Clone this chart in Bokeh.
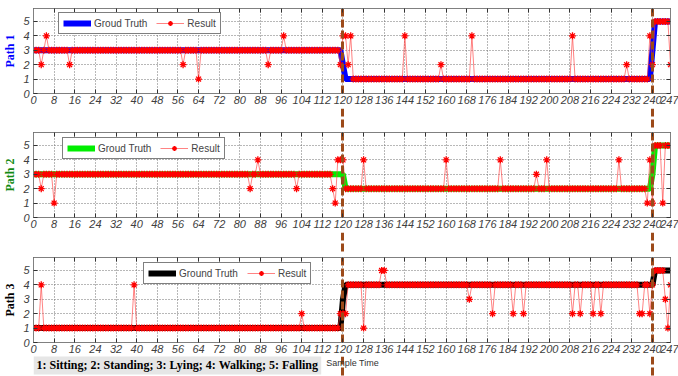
from bokeh.plotting import figure
from bokeh.layouts import column
from bokeh.models import Range1d, FixedTicker, LinearAxis, Legend, LegendItem, Label
from bokeh.embed import file_html
from bokeh.resources import INLINE

# ---------------- data (one digit per sample, 8 samples per group) ----------------
sample_time = list(range(248))
x_ticks = list(range(0, 241, 8)) + [247]
y_ticks = [0, 1, 2, 3, 4, 5]
boundaries = [120, 240]

path1_truth = """
33333333 33333333 33333333 33333333 33333333 33333333 33333333 33333333
33333333 33333333 33333333 33333333 33333333 33333333 33333333 21111111
11111111 11111111 11111111 11111111 11111111 11111111 11111111 11111111
11111111 11111111 11111111 11111111 11111111 11111111 35555555
"""
path1_result = """
33323433 33333323 33333333 33333333 33333333 33333333 33333333 33233333
13333333 33333333 33333333 33323333 34333333 33333333 33333332 44241111
11111111 11111111 41111111 11111121 11111111 11411111 11111111 11111111
11111111 11111111 14111111 11111111 11111121 11111114 25555552
"""
path2_truth = """
33333333 33333333 33333333 33333333 33333333 33333333 33333333 33333333
33333333 33333333 33333333 33333333 33333333 33333333 33333333 32222222
22222222 22222222 22222222 22222222 22222222 22222222 22222222 22222222
22222222 22222222 22222222 22222222 22222222 22222222 35555555
"""
path2_result = """
33323333 13333333 33333333 33333333 33333333 33333333 33333333 33333333
33333333 33333333 33332334 33333333 33333323 33333333 33332144 42222222
42222222 22222222 22222222 22222222 42222222 22222222 22222422 22222222
22232224 22222222 22222222 22222222 22242222 22222214 15551555
"""
path3_truth = """
11111111 11111111 11111111 11111111 11111111 11111111 11111111 11111111
11111111 11111111 11111111 11111111 11111111 11111111 11111111 34444444
44444444 44444444 44444444 44444444 44444444 44444444 44444444 44444444
44444444 44444444 44444444 44444444 44444444 44444444 45555555
"""
path3_result = """
11141111 11111111 11111111 11111111 11111114 11111111 11111111 11111111
11111111 11111111 11111111 11111111 11111111 21111111 11111112 22444444
14444445 54444444 44444444 44444444 44444444 43444444 44244444 44244424
44444444 44444444 42442444 42442444 44444444 44422442 45555314
"""

state_note = "1: Sitting; 2: Standing; 3: Lying; 4: Walking; 5: Falling"
x_title = "Sample Time"


def parse(s):
    vals = [int(ch) for ch in "".join(s.split())]
    assert len(vals) == len(sample_time), len(vals)
    return vals


W = 678
LEFT, RIGHT = 31, 8
TICK_FONT = "Liberation Sans"
BROWN = "#9c4a1a"
DASH = dict(line_color=BROWN, line_width=3, line_dash="8 3")


def make_panel(truth, result, truth_color, truth_label, ylabel, ylabel_color,
               height, border_bottom, legend_loc):
    p = figure(width=W, height=height, x_range=Range1d(0, 247), y_range=Range1d(0, 5.9),
               output_backend="svg", toolbar_location=None,
               min_border_left=LEFT, min_border_right=RIGHT, min_border_top=3,
               min_border_bottom=border_bottom)
    p.outline_line_color = "#808080"
    xt = FixedTicker(ticks=x_ticks)
    yt = FixedTicker(ticks=y_ticks)
    p.xaxis.ticker = xt
    p.yaxis.ticker = yt
    p.xgrid.ticker = xt
    p.ygrid.ticker = yt
    for g in (p.xgrid, p.ygrid):
        g.grid_line_color = "#707070"
        g.grid_line_dash = "1 2"
        g.grid_line_width = 1
    for ax in (p.xaxis, p.yaxis):
        ax.axis_line_color = "#808080"
        ax.major_tick_in = 4
        ax.major_tick_out = 0
        ax.major_tick_line_color = "#333333"
        ax.minor_tick_line_color = None
        ax.major_label_text_font = TICK_FONT
        ax.major_label_text_font_style = "italic"
        ax.major_label_text_font_size = "11px"
        ax.major_label_text_color = "#404040"
    p.xaxis.major_label_standoff = 2
    p.yaxis.major_label_standoff = 4
    p.yaxis.axis_label = ylabel
    p.yaxis.axis_label_text_font = "Liberation Serif"
    p.yaxis.axis_label_text_font_style = "bold"
    p.yaxis.axis_label_text_font_size = "12px"
    p.yaxis.axis_label_text_color = ylabel_color
    p.yaxis.axis_label_standoff = 3
    # box ticks on top and right (no labels)
    for side in ("above", "right"):
        ax = LinearAxis(ticker=xt if side == "above" else yt)
        ax.axis_line_color = "#808080"
        ax.major_tick_in = 4
        ax.major_tick_out = 0
        ax.major_tick_line_color = "#333333"
        ax.minor_tick_line_color = None
        ax.major_label_text_font_size = "1px"
        ax.major_label_text_color = None
        ax.major_label_standoff = 0
        p.add_layout(ax, side)

    gt = p.line(sample_time, truth, line_color=truth_color, line_width=6)
    rl = p.line(sample_time, result, line_color="#ff4040", line_alpha=0.65, line_width=1)
    rs = p.scatter(sample_time, result, marker="asterisk", size=7, line_color="#ff0000",
                   line_width=1.3)
    p.vspan(x=boundaries, **DASH)
    legend = Legend(items=[LegendItem(label=truth_label, renderers=[gt]),
                           LegendItem(label="Result", renderers=[rl, rs])],
                    location=legend_loc, orientation="horizontal",
                    border_line_color="black", border_line_width=1,
                    background_fill_color="white", background_fill_alpha=1,
                    label_text_font=TICK_FONT, label_text_font_size="10px",
                    glyph_width=28, glyph_height=12, label_height=12,
                    label_standoff=3, spacing=9, padding=4, margin=0)
    p.add_layout(legend)
    return p


def make_strip(height):
    # strip with the panels' x scale, carrying the boundary lines between panels
    s = figure(width=W, height=height, x_range=Range1d(0, 247), y_range=Range1d(0, 1),
               x_axis_location=None, y_axis_location=None,
               output_backend="svg", toolbar_location=None,
               min_border_left=LEFT, min_border_right=RIGHT, min_border_top=0,
               min_border_bottom=0)
    s.outline_line_color = None
    s.xgrid.visible = False
    s.ygrid.visible = False
    s.vspan(x=boundaries, **DASH)
    return s


s0 = make_strip(5)
p1 = make_panel(parse(path1_truth), parse(path1_result), "#0000ff", "Groud Truth", "Path 1",
                "#0000ff", 103, 15, (25, 59))
s1 = make_strip(21)
p2 = make_panel(parse(path2_truth), parse(path2_result), "#00ee00", "Groud Truth", "Path 2",
                "#138a13", 103, 15, (29, 58))
s2 = make_strip(22)
p3 = make_panel(parse(path3_truth), parse(path3_result), "#000000", "Ground Truth", "Path 3",
                "#000000", 102, 14, (110, 58))
s3 = make_strip(20)
s3.add_layout(Label(x=0, y=12, x_units="screen", y_units="screen", text=state_note,
                    text_baseline="middle",
                    text_font="Liberation Serif", text_font_style="bold", text_font_size="12px",
                    text_color="black", background_fill_color="#e6e6e6", padding=3))
s3.add_layout(Label(x=319, y=14, x_units="screen", y_units="screen", text=x_title,
                    text_align="center", text_baseline="middle",
                    text_font=TICK_FONT, text_font_size="9px", text_color="#333333"))

layout = column(s0, p1, s1, p2, s2, p3, s3, spacing=0)
open("out.html", "w").write(file_html(layout, INLINE))
